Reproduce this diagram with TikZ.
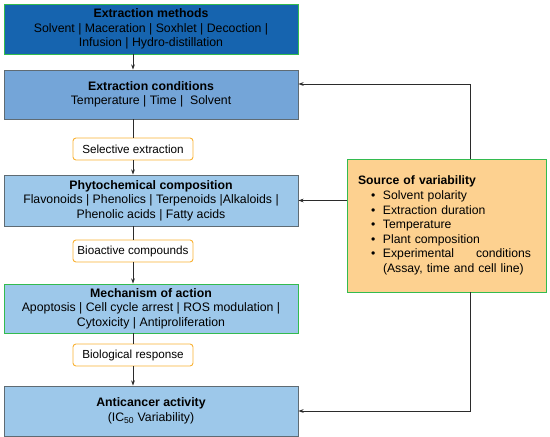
\documentclass[tikz,border=0pt]{standalone}
\usepackage{fontspec}
\setmainfont{Liberation Sans}
\usepackage{xcolor}
\definecolor{deepblue}{HTML}{1664AF}
\definecolor{midblue}{HTML}{74A5D8}
\definecolor{paleblue}{HTML}{9DC8EA}
\definecolor{peach}{HTML}{FDD190}
\definecolor{amber}{HTML}{F9B234}
\definecolor{leaf}{HTML}{33BB4F}
\definecolor{slate}{HTML}{5F6B73}
\definecolor{ink}{HTML}{2B2B2B}
\usetikzlibrary{arrows.meta,positioning,calc}
\tikzset{
  >={Stealth[length=1.8mm,width=1.3mm]},
  stage/.style  ={draw=slate,fill=paleblue,line width=0.9pt,
                  minimum width=294pt,align=center,
                  font=\fontsize{12.3}{14.5}\selectfont,inner sep=0pt},
  tag/.style    ={draw=amber,fill=white,rounded corners=3pt,line width=0.9pt,
                  minimum width=120pt,minimum height=22pt,
                  font=\fontsize{11.7}{13}\selectfont,inner sep=0pt},
  flow/.style   ={->,draw=ink,line width=0.7pt},
  link/.style   ={draw=ink,line width=0.7pt},
}
\newcommand{\itm}[1]{\hspace*{13pt}\makebox[12pt][l]{\textbullet}#1}

\begin{document}
\begin{tikzpicture}[x=1pt,y=-1pt]
\useasboundingbox (0,0) rectangle (550,437);
% main chain
\node[stage,fill=deepblue,draw=leaf,minimum height=50pt] (meth) at (151,29)
 {\textbf{Extraction methods}\\
  Solvent | Maceration | Soxhlet | Decoction |\\
  Infusion | Hydro-distillation};
\node[stage,fill=midblue,minimum height=49pt] (cond) at (151,94.5)
 {\textbf{Extraction conditions}\\
  Temperature | Time |\ \ Solvent};
\node[tag] (sel) at (133,149) {Selective extraction};
\node[stage,minimum height=51pt] (phyto) at (151,200.5)
 {\textbf{Phytochemical composition}\\
  Flavonoids | Phenolics | Terpenoids |Alkaloids |\\
  Phenolic acids | Fatty acids};
\node[tag] (bio) at (133,251) {Bioactive compounds};
\node[stage,draw=leaf,minimum height=49pt] (mech) at (151,308.5)
 {\textbf{Mechanism of action}\\
  Apoptosis | Cell cycle arrest | ROS modulation |\\
  Cytoxicity | Antiproliferation};
\node[tag] (resp) at (133,355) {Biological response};
\node[stage,minimum height=50pt] (anti) at (151,411)
 {\textbf{Anticancer activity}\\
  (IC\textsubscript{50} Variability)};
% variability box
\node[draw=leaf,fill=peach,line width=0.9pt,minimum width=199pt,minimum height=133pt,
      text width=177pt,align=left,inner sep=0pt,
      font=\fontsize{12.2}{14.6}\selectfont] (src) at (446.5,225.5)
 {\textbf{Source of variability}\\
  \itm{Solvent polarity}\\
  \itm{Extraction duration}\\
  \itm{Temperature}\\
  \itm{Plant composition}\\
  \itm{\makebox[148pt][s]{Experimental\hfill conditions}}\\
  \hspace*{25pt}(Assay, time and cell line)};
% connectors
\draw[flow] (meth.south -| sel) -- (cond.north -| sel);
\draw[link] (cond.south -| sel) -- (sel);
\draw[flow] (sel) -- (phyto.north -| sel);
\draw[link] (phyto.south -| bio) -- (bio);
\draw[flow] (bio) -- (mech.north -| bio);
\draw[link] (mech.south -| resp) -- (resp);
\draw[flow] (resp) -- (anti.north -| resp);
\draw[flow] ([xshift=23.5pt]src.north) |- ([yshift=10.5pt]cond.east);
\draw[flow] (src.west |- phyto.east) -- (phyto.east);
\draw[flow] ([xshift=23.5pt]src.south) |- (anti.east);
\end{tikzpicture}
\end{document}
